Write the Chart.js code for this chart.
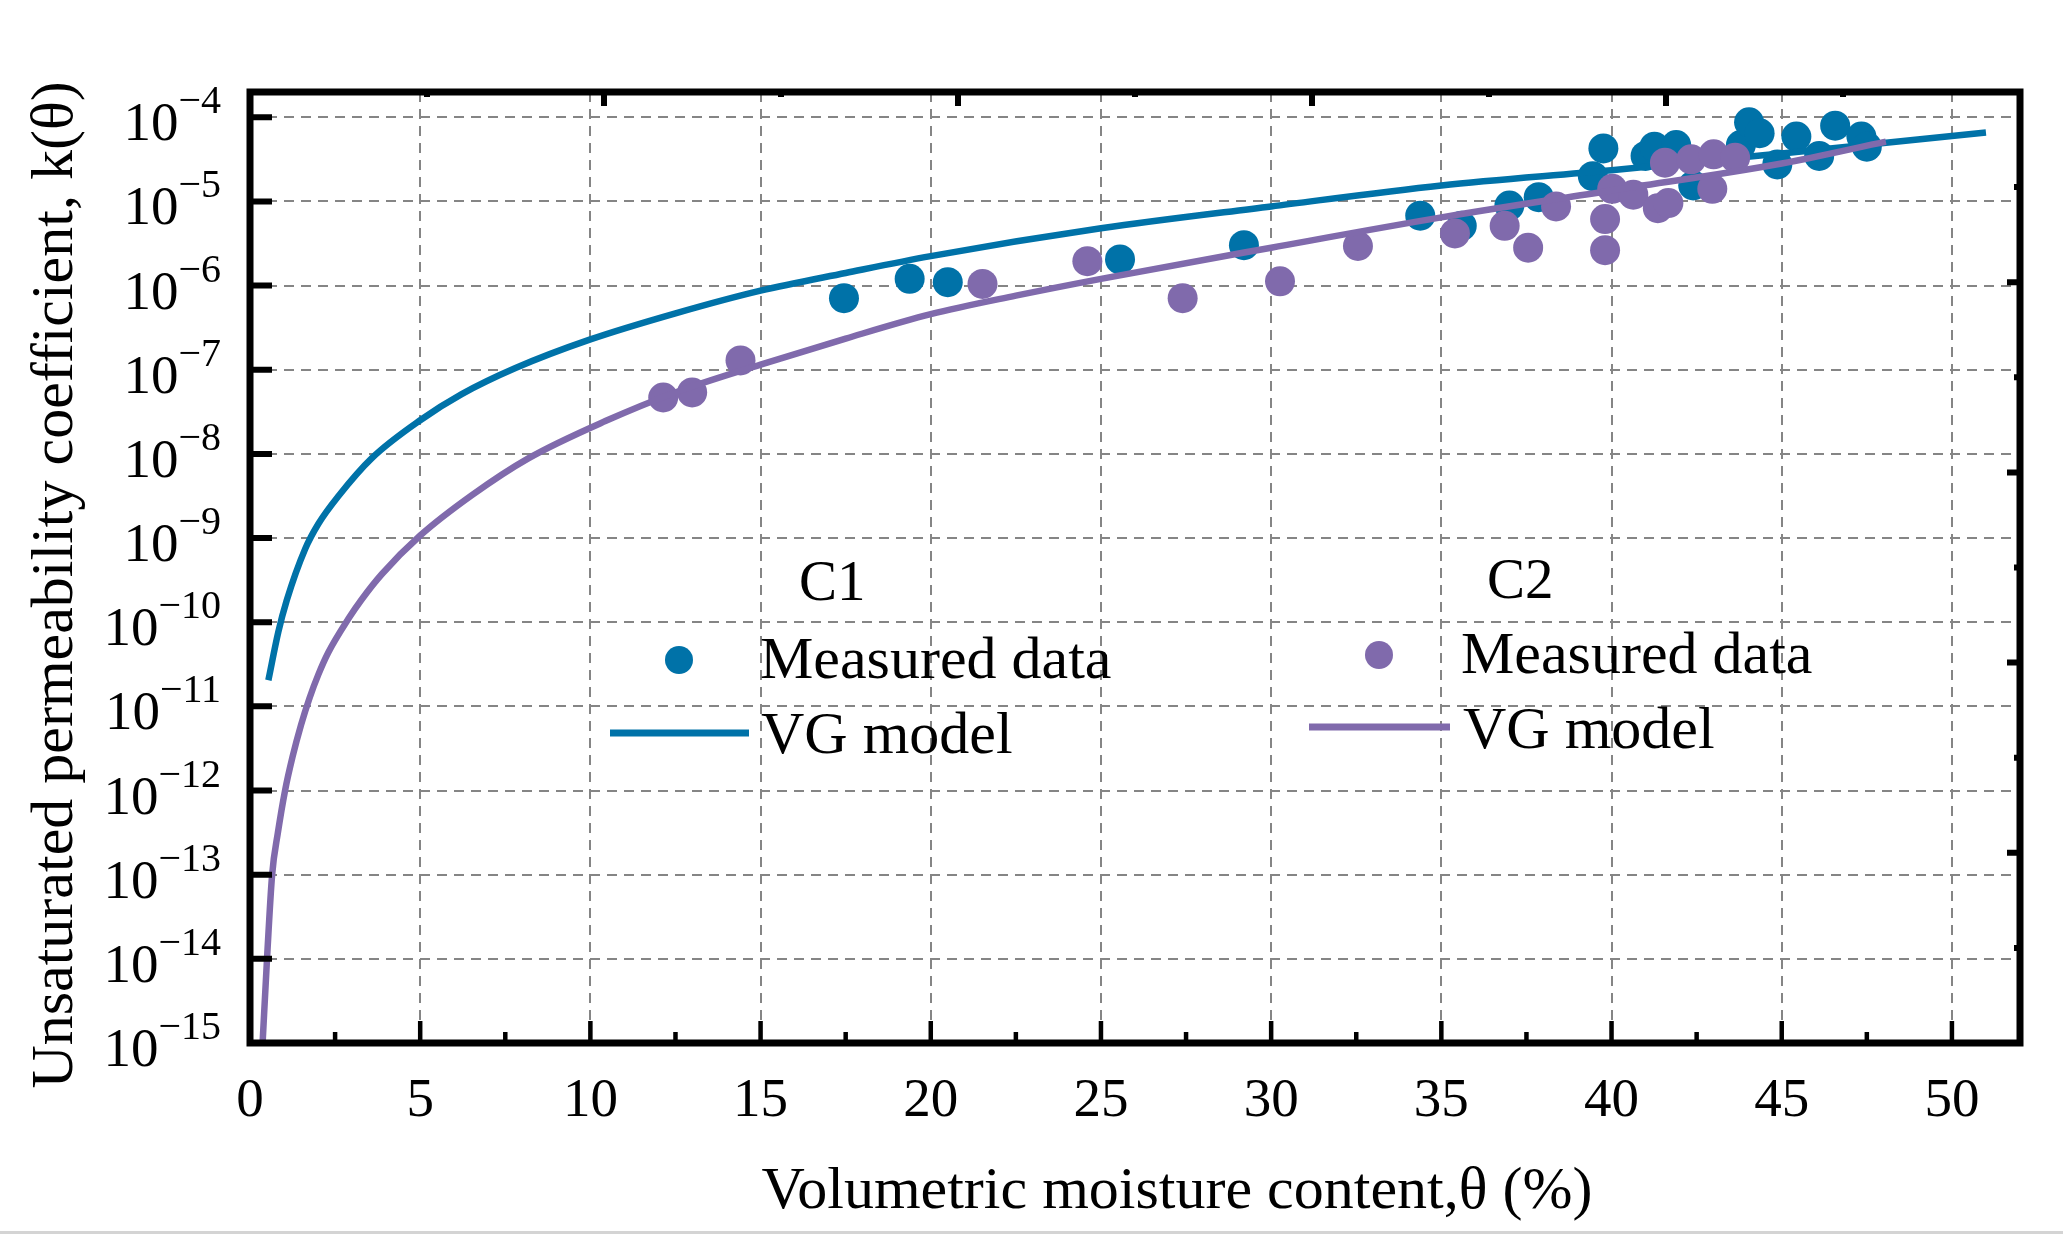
<!DOCTYPE html>
<html>
<head>
<meta charset="utf-8">
<script src="https://cdn.jsdelivr.net/npm/chart.js@4.4.1/dist/chart.umd.min.js"></script>
<style>
  html, body { margin: 0; padding: 0; background: #fff; }
  #wrap { position: relative; width: 2063px; height: 1253px; }
  #rule { position: absolute; left: 0; top: 1231px; width: 2063px; height: 3px; background: #d4d4d4; }
</style>
</head>
<body>
<div id="wrap">
  <canvas id="myChart"></canvas>
  <div id="rule"></div>
</div>
<script>
const c1Theta = [17.45, 19.38, 20.5, 25.56, 29.2, 34.38, 35.6, 37.0, 37.86, 39.45, 39.76, 41.0,
                 41.26, 41.9, 42.4, 43.8, 44.04, 44.35, 44.87, 45.43, 46.1, 46.57, 47.34, 47.5];
const c1Exp = [-6.15, -5.92, -5.96, -5.69, -5.52, -5.17, -5.29, -5.05, -4.95, -4.70, -4.37, -4.46,
               -4.35, -4.33, -4.81, -4.33, -4.06, -4.19, -4.56, -4.23, -4.46, -4.10, -4.23, -4.35];

const c2Theta = [12.14, 12.99, 14.41, 21.52, 24.6, 27.4, 30.26, 32.55, 35.4, 36.86, 37.55, 38.37,
                 39.81, 39.81, 40.02, 40.64, 41.36, 41.67, 41.57, 42.34, 42.96, 43.0, 43.63];
const c2Exp = [-7.33, -7.27, -6.89, -5.98, -5.71, -6.15, -5.95, -5.53, -5.38, -5.29, -5.55, -5.06,
               -5.21, -5.58, -4.85, -4.92, -5.08, -5.02, -4.54, -4.50, -4.85, -4.44, -4.48];

// VG model curves
const vg1Theta = [0.54, 0.83, 1.08, 1.62, 2.01, 2.6, 3.58, 5, 6.22, 7.8, 10, 12.5, 15, 17.5, 20,
                  25, 30, 35, 40, 45, 51];
const vg1Exp = [-10.69, -10.12, -9.74, -9.13, -8.83, -8.50, -8.05, -7.6, -7.29, -6.98, -6.64, -6.33,
                -6.06, -5.85, -5.65, -5.32, -5.06, -4.81, -4.63, -4.43, -4.18];

const vg2Theta = [0.37, 0.5, 0.65, 0.82, 1.03, 1.25, 1.5, 1.75, 2.01, 2.3, 2.89, 3.28, 3.87, 5,
                  6.52, 8.19, 10.44, 12.5, 15, 17.5, 20, 22.5, 25, 30, 35, 40, 45, 48.06];
const vg2Exp = [-15.0, -14.0, -13.0, -12.5, -12.0, -11.6, -11.22, -10.9, -10.62, -10.36, -9.96,
                -9.73, -9.43, -8.97, -8.49, -8.05, -7.61, -7.27, -6.94, -6.63, -6.34, -6.12, -5.92,
                -5.55, -5.19, -4.87, -4.55, -4.29];

// axis ticks
const xTickValues = [0, 5, 10, 15, 20, 25, 30, 35, 40, 45, 50];
const xMinorValues = [2.5, 7.5, 12.5, 17.5, 22.5, 27.5, 32.5, 37.5, 42.5, 47.5];
const yTickExps = [-4, -5, -6, -7, -8, -9, -10, -11, -12, -13, -14, -15];
const topTickValues = [0, 5, 10, 15, 20, 25, 30, 35, 40, 45, 50];
const rightTickValues = [0, 1, 2, 3, 4, 5, 6, 7, 8, 9, 10];

const BLUE = '#0072A8';
const PURPLE = '#806AAC';
const GRID = '#858585';
const FONT = '"Liberation Serif", "Times New Roman", serif';

function toPoints(xs, exps) {
    return xs.map((x, i) => ({ x: x, y: Math.pow(10, exps[i]) }));
}

// frame, inward ticks, tick labels, titles and legend
const framePlugin = {
    id: 'frame',
    afterDraw(chart) {
        const { ctx, chartArea: a, scales } = chart;
        ctx.save();
        ctx.strokeStyle = '#000';
        ctx.lineCap = 'butt';

        // bottom ticks
        ctx.lineWidth = 4.5;
        ctx.beginPath();
        xTickValues.concat(xMinorValues).forEach(v => {
            const px = scales.x.getPixelForValue(v);
            const len = xTickValues.includes(v) ? 22 : 11;
            ctx.moveTo(px, a.bottom);
            ctx.lineTo(px, a.bottom - len);
        });
        ctx.stroke();

        // left ticks
        ctx.lineWidth = 6;
        ctx.beginPath();
        yTickExps.forEach(e => {
            const py = scales.y.getPixelForValue(Math.pow(10, e));
            ctx.moveTo(a.left, py);
            ctx.lineTo(a.left + 22, py);
        });
        ctx.stroke();

        // top ticks (own scale)
        ctx.lineWidth = 6;
        ctx.beginPath();
        topTickValues.forEach(v => {
            const px = scales.x2.getPixelForValue(v);
            const len = v % 10 === 0 ? 14 : 5;
            ctx.moveTo(px, a.top);
            ctx.lineTo(px, a.top + len);
        });
        ctx.stroke();

        // right ticks (own scale)
        ctx.beginPath();
        rightTickValues.forEach(v => {
            const py = scales.y2.getPixelForValue(v);
            const len = v % 2 === 0 ? 13 : 6;
            ctx.moveTo(a.right, py);
            ctx.lineTo(a.right - len, py);
        });
        ctx.stroke();

        // frame
        ctx.lineWidth = 7;
        ctx.strokeRect(a.left, a.top, a.right - a.left, a.bottom - a.top);

        ctx.fillStyle = '#000';
        ctx.textBaseline = 'alphabetic';

        // x tick labels
        ctx.font = '55px ' + FONT;
        ctx.textAlign = 'center';
        xTickValues.forEach(v => {
            ctx.fillText(String(v), scales.x.getPixelForValue(v), 1116);
        });

        // y tick labels: 10 with superscript exponent
        ctx.textAlign = 'right';
        yTickExps.forEach(e => {
            const py = scales.y.getPixelForValue(Math.pow(10, e));
            const sup = '\u2212' + Math.abs(e);
            ctx.font = '40px ' + FONT;
            const w = ctx.measureText(sup).width;
            ctx.fillText(sup, 221, py - 4);
            ctx.font = '55px ' + FONT;
            ctx.fillText('10', 221 - w, py + 23);
        });

        // axis titles
        ctx.font = '60px ' + FONT;
        ctx.textAlign = 'center';
        ctx.fillText('Volumetric moisture content,\u03b8 (%)', 1177, 1208);
        ctx.save();
        ctx.translate(72, 585);
        ctx.rotate(-Math.PI / 2);
        ctx.fillText('Unsaturated permeability coefficient, k(\u03b8)', 0, 0);
        ctx.restore();

        // legend
        const groups = [
            { name: 'C1', color: BLUE, head: [799, 600], dot: [679, 660], m: [760, 678], line: [610, 749, 733], vg: [761, 753] },
            { name: 'C2', color: PURPLE, head: [1487, 598], dot: [1379, 655], m: [1461, 673], line: [1309, 1450, 727], vg: [1463, 748] }
        ];
        ctx.textAlign = 'left';
        groups.forEach(g => {
            ctx.fillStyle = '#000';
            ctx.font = '57px ' + FONT;
            ctx.fillText(g.name, g.head[0], g.head[1]);
            ctx.font = '60px ' + FONT;
            ctx.fillText('Measured data', g.m[0], g.m[1]);
            ctx.fillText('VG model', g.vg[0], g.vg[1]);
            ctx.fillStyle = g.color;
            ctx.beginPath();
            ctx.arc(g.dot[0], g.dot[1], 14, 0, Math.PI * 2);
            ctx.fill();
            ctx.strokeStyle = g.color;
            ctx.lineWidth = 7;
            ctx.beginPath();
            ctx.moveTo(g.line[0], g.line[2]);
            ctx.lineTo(g.line[1], g.line[2]);
            ctx.stroke();
        });

        ctx.restore();
    }
};

const data = {
    datasets: [
        {
            type: 'line',
            label: 'C2 VG model',
            data: toPoints(vg2Theta, vg2Exp),
            borderColor: PURPLE,
            borderWidth: 6.5,
            pointRadius: 0,
            fill: false,
            cubicInterpolationMode: 'monotone',
            order: 0
        },
        {
            label: 'C2 Measured data',
            data: toPoints(c2Theta, c2Exp),
            backgroundColor: PURPLE,
            borderWidth: 0,
            pointRadius: 15,
            order: 1
        },
        {
            type: 'line',
            label: 'C1 VG model',
            data: toPoints(vg1Theta, vg1Exp),
            borderColor: BLUE,
            borderWidth: 6.5,
            pointRadius: 0,
            fill: false,
            cubicInterpolationMode: 'monotone',
            order: 2
        },
        {
            label: 'C1 Measured data',
            data: toPoints(c1Theta, c1Exp),
            backgroundColor: BLUE,
            borderWidth: 0,
            pointRadius: 15,
            order: 3
        }
    ]
};

const config = {
    type: 'scatter',
    data: data,
    options: {
        responsive: true,
        maintainAspectRatio: false,
        animation: false,
        layout: { padding: { left: 250, top: 92, right: 43, bottom: 210 } },
        plugins: {
            legend: { display: false },
            tooltip: { enabled: false }
        },
        scales: {
            x: {
                type: 'linear',
                min: 0,
                max: 52,
                afterBuildTicks: s => { s.ticks = xTickValues.map(v => ({ value: v })); },
                ticks: { display: false },
                grid: { color: GRID, lineWidth: 2, drawTicks: false },
                border: { display: false, dash: [10, 7] }
            },
            y: {
                type: 'logarithmic',
                min: 1e-15,
                max: Math.pow(10, -3.7),
                afterBuildTicks: s => { s.ticks = yTickExps.map(e => ({ value: Math.pow(10, e) })); },
                ticks: { display: false },
                grid: { color: GRID, lineWidth: 2, drawTicks: false },
                border: { display: false, dash: [10, 7] }
            },
            x2: {
                type: 'linear',
                position: 'top',
                min: 0,
                max: 50,
                ticks: { display: false },
                grid: { display: false, drawTicks: false },
                border: { display: false }
            },
            y2: {
                type: 'linear',
                position: 'right',
                min: 0,
                max: 10,
                ticks: { display: false },
                grid: { display: false, drawTicks: false },
                border: { display: false }
            }
        }
    },
    plugins: [framePlugin]
};

const ctx = document.getElementById('myChart').getContext('2d');
new Chart(ctx, config);
</script>
</body>
</html>
